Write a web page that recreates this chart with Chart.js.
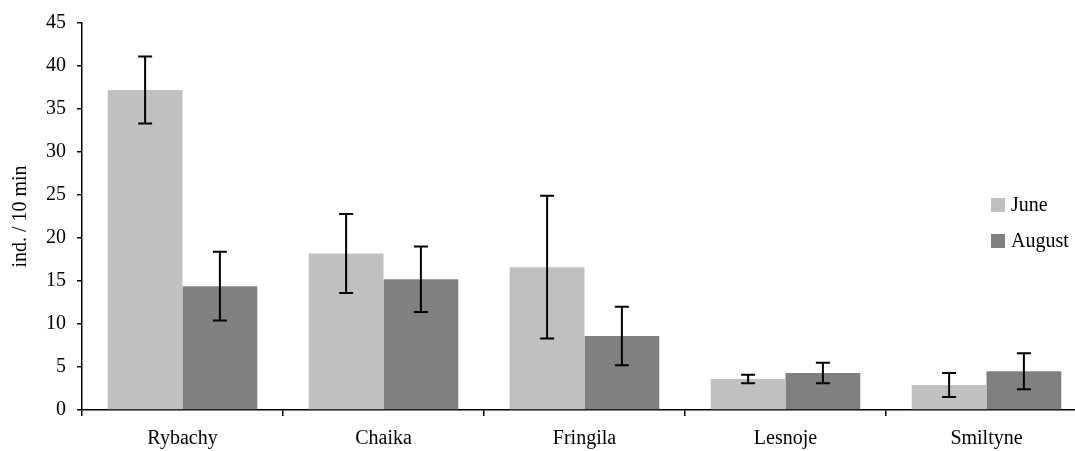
<!DOCTYPE html>
<html>
<head>
<meta charset="utf-8">
<script src="https://cdn.jsdelivr.net/npm/chart.js@4.4.0/dist/chart.umd.min.js"></script>
<style>
    html, body { margin: 0; padding: 0; background: #fff; overflow: hidden; }
    #wrap { position: relative; width: 1092px; height: 451px; }
    .legend { position: absolute; left: 991px; height: 24px; line-height: 24px; font: 20px "Liberation Serif", serif; color: #000; white-space: nowrap; }
    .legend span.box { position: absolute; left: 0; top: 5px; width: 14px; height: 14px; }
    .legend span.txt { position: absolute; left: 20px; top: 0; }
</style>
</head>
<body>
<div id="wrap">
    <canvas id="barChart" width="1092" height="451"></canvas>
    <div class="legend" style="top: 193px;"><span class="box" style="background:#c0c0c0"></span><span class="txt">June</span></div>
    <div class="legend" style="top: 229px;"><span class="box" style="background:#808080"></span><span class="txt">August</span></div>
</div>
<script>
// sites and mean counts (ind. / 10 min), with error bar half-widths
const categories = ['Rybachy', 'Chaika', 'Fringila', 'Lesnoje', 'Smiltyne'];
const juneValues = [37.2, 18.2, 16.6, 3.6, 2.9];
const augustValues = [14.4, 15.2, 8.6, 4.3, 4.5];
const juneErrors = [3.9, 4.6, 8.3, 0.5, 1.4];
const augustErrors = [4.0, 3.8, 3.4, 1.2, 2.1];
const yTicks = [0, 5, 10, 15, 20, 25, 30, 35, 40, 45];

const serif = '"Liberation Serif", "Times New Roman", serif';

// draws the error bars from the bar positions given by the scales
const errorBars = {
    id: 'errorBars',
    afterDatasetsDraw(chart) {
        const ctx = chart.ctx;
        const yScale = chart.scales.y;
        chart.data.datasets.forEach((ds, i) => {
            const meta = chart.getDatasetMeta(i);
            meta.data.forEach((bar, j) => {
                const v = ds.data[j];
                const e = ds.errors[j];
                const top = yScale.getPixelForValue(v + e);
                const bottom = yScale.getPixelForValue(v - e);
                ctx.save();
                ctx.strokeStyle = '#000';
                ctx.lineWidth = 2;
                ctx.beginPath();
                ctx.moveTo(bar.x, top);
                ctx.lineTo(bar.x, bottom);
                ctx.moveTo(bar.x - 7, top);
                ctx.lineTo(bar.x + 7, top);
                ctx.moveTo(bar.x - 7, bottom);
                ctx.lineTo(bar.x + 7, bottom);
                ctx.stroke();
                ctx.restore();
            });
        });
    }
};

const ctx = document.getElementById('barChart').getContext('2d');
const chart = new Chart(ctx, {
    type: 'bar',
    data: {
        labels: categories,
        datasets: [{
            label: 'June',
            data: juneValues,
            errors: juneErrors,
            backgroundColor: '#c0c0c0',
            categoryPercentage: 0.744,
            barPercentage: 1.0
        }, {
            label: 'August',
            data: augustValues,
            errors: augustErrors,
            backgroundColor: '#808080',
            categoryPercentage: 0.744,
            barPercentage: 1.0
        }]
    },
    options: {
        responsive: false,
        animation: false,
        layout: { padding: { top: 21, right: 5, left: 0, bottom: 0 } },
        plugins: {
            legend: { display: false },
            tooltip: { enabled: false }
        },
        scales: {
            x: {
                offset: true,
                grid: { offset: true, drawOnChartArea: false, tickLength: 6, color: '#000', lineWidth: 1.5 },
                border: { color: '#000', width: 1.5 },
                ticks: { color: '#000', font: { family: serif, size: 20 }, padding: 11, maxRotation: 0 },
                afterFit(scale) { scale.height = 41; }
            },
            y: {
                min: 0,
                max: 45,
                afterBuildTicks(scale) { scale.ticks = yTicks.map(v => ({ value: v })); },
                grid: { drawOnChartArea: false, tickLength: 5, color: '#000', lineWidth: 1.5 },
                border: { color: '#000', width: 1.5 },
                ticks: { color: '#000', font: { family: serif, size: 20 }, padding: 11 },
                title: {
                    display: true,
                    text: 'ind. / 10 min',
                    color: '#000',
                    font: { family: serif, size: 20 },
                    padding: { top: 9, bottom: 0 }
                },
                afterFit(scale) { scale.width = 82; }
            }
        }
    },
    plugins: [errorBars]
});
</script>
</body>
</html>
